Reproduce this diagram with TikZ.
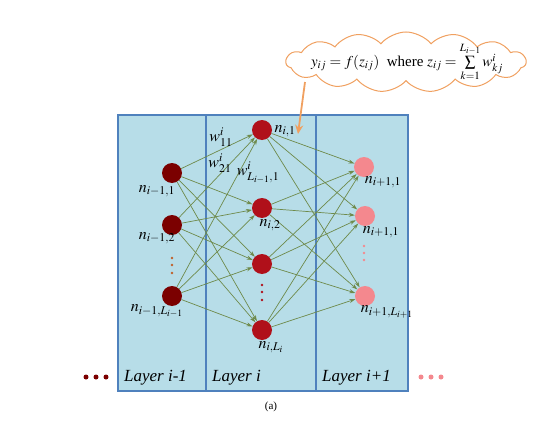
\documentclass[tikz,border=0pt]{standalone}
\usepackage{mathptmx}
\usepackage{fontspec}
\setmainfont{Liberation Serif}
\usetikzlibrary{shapes.symbols,arrows.meta}
\definecolor{boxfill}{HTML}{B7DDE8}
\definecolor{boxline}{HTML}{4F81BD}
\definecolor{darkn}{HTML}{7B0000}
\definecolor{midn}{HTML}{B0101A}
\definecolor{lightn}{HTML}{F4888E}
\definecolor{edgecol}{HTML}{6E8A4A}
\definecolor{callout}{HTML}{F0A060}
\definecolor{dotbrown}{HTML}{C0602A}
\begin{document}
\begin{tikzpicture}[x=1pt,y=-1pt,
  layerbox/.style={draw=boxline,line width=1.3pt,fill=boxfill},
  neuron/.style={circle,minimum size=20pt,inner sep=0pt},
  nA/.style={neuron,fill=darkn},
  nB/.style={neuron,fill=midn},
  nC/.style={neuron,fill=lightn},
  lab/.style={font=\fontsize{16}{19}\selectfont,inner sep=0pt},
  layerlab/.style={font=\fontsize{17}{20}\selectfont\itshape,inner sep=0pt,anchor=west},
  conn/.style={draw=edgecol,line width=0.7pt,-{Stealth[length=6pt,width=4pt]}},
  vdot/.style={circle,inner sep=0pt,minimum size=2.6pt},
  hdot/.style={circle,inner sep=0pt,minimum size=5pt}]
\useasboundingbox (0,0) rectangle (539,439);
% layer boxes
\path[layerbox] (118,115) rectangle (206,391);
\path[layerbox] (206,115) rectangle (316,391);
\path[layerbox] (316,115) rectangle (408,391);
% neurons
\node[nA] (a1) at (172,173) {};
\node[nA] (a2) at (172,225) {};
\node[nA] (a3) at (172,296) {};
\node[nB] (b1) at (262,130) {};
\node[nB] (b2) at (262,208) {};
\node[nB] (b3) at (262,264) {};
\node[nB] (b4) at (262,330) {};
\node[nC] (c1) at (364,167) {};
\node[nC] (c2) at (365,216) {};
\node[nC] (c3) at (365,296) {};
% connections
\foreach \s in {a1,a2,a3}{\foreach \t in {b1,b2,b3,b4}{\draw[conn] (\s) -- (\t);}}
\foreach \s in {b1,b2,b3,b4}{\foreach \t in {c1,c2,c3}{\draw[conn] (\s) -- (\t);}}
% vertical dots
\node[vdot,fill=dotbrown] (da1) at (172,258) {};
\node[vdot,fill=dotbrown] (da2) at (172,265) {};
\node[vdot,fill=dotbrown] (da3) at (172,273) {};
\node[vdot,fill=midn] (db1) at (262,285) {};
\node[vdot,fill=midn] (db2) at (262,292) {};
\node[vdot,fill=midn] (db3) at (262,300) {};
\node[vdot,fill=lightn] (dc1) at (364,246) {};
\node[vdot,fill=lightn] (dc2) at (364,253) {};
\node[vdot,fill=lightn] (dc3) at (364,260) {};
% node labels
\node[lab] (la1) at (157,191) {$n_{i-1,1}$};
\node[lab] (la2) at (157,238) {$n_{i-1,2}$};
\node[lab] (la3) at (157,311) {$n_{i-1,L_{i-1}}$};
\node[lab] (lb1) at (285,131) {$n_{i,1}$};
\node[lab] (lb2) at (270,225) {$n_{i,2}$};
\node[lab] (lb4) at (271,347) {$n_{i,L_i}$};
\node[lab] (lc1) at (383,182) {$n_{i+1,1}$};
\node[lab] (lc2) at (381,232) {$n_{i+1,1}$};
\node[lab] (lc3) at (387,312) {$n_{i+1,L_{i+1}}$};
% weight labels
\node[lab] (w1) at (221,137) {$w^{i}_{11}$};
\node[lab] (w2) at (220,163) {$w^{i}_{21}$};
\node[lab] (w3) at (258,173) {$w^{i}_{L_{i-1},1}$};
% layer labels
\node[layerlab] (l1) at (124,378) {Layer i-1};
\node[layerlab] (l2) at (212,378) {Layer i};
\node[layerlab] (l3) at (322,378) {Layer i+1};
% horizontal dots
\node[hdot,fill=darkn] (h1) at (86,377) {};
\node[hdot,fill=darkn] (h2) at (96,377) {};
\node[hdot,fill=darkn] (h3) at (106,377) {};
\node[hdot,fill=lightn] (h4) at (421,377) {};
\node[hdot,fill=lightn] (h5) at (431,377) {};
\node[hdot,fill=lightn] (h6) at (441,377) {};
% callout
\node[cloud,cloud puffs=15,cloud puff arc=100,aspect=4,draw=callout,line width=1pt,fill=white,
  minimum width=240pt,minimum height=60pt,inner sep=0pt] (cl) at (406,62) {};
\node[font=\fontsize{15}{18}\selectfont,inner sep=0pt] (form) at (407,62) {$y_{ij} = f(z_{ij})$\ \ where $z_{ij} = \sum\limits_{k=1}^{L_{i-1}} w^{i}_{kj}$};
\coordinate (cs) at (305,82);
\coordinate (ce) at (298,134);
\draw[callout,line width=1.8pt,-{Stealth[length=9pt,width=8pt]}] (cs) -- (ce);
% caption
\node[font=\fontsize{11}{13}\selectfont] (cap) at (271,407) {(a)};
\end{tikzpicture}
\end{document}
